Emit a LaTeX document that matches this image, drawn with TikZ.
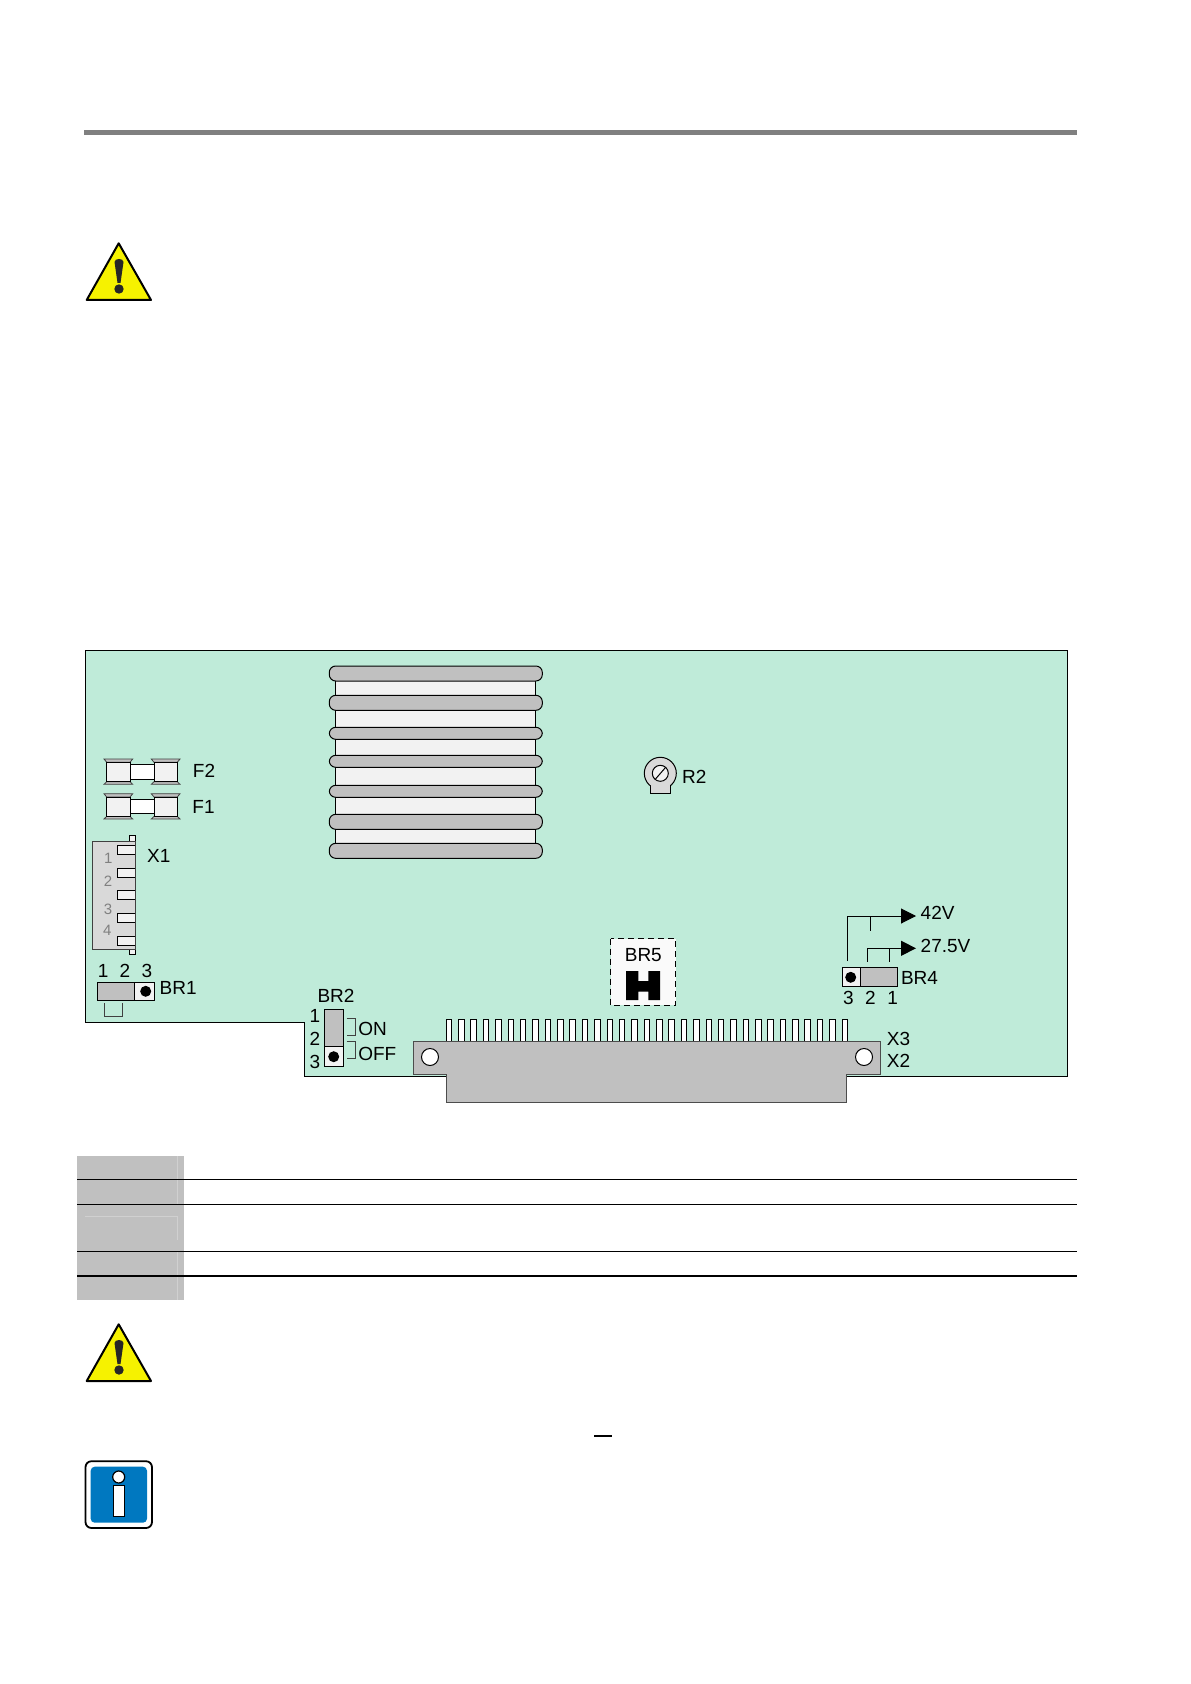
\documentclass[tikz,border=0pt]{standalone}
\usepackage{fontspec}
\setmainfont{Liberation Sans}
\usetikzlibrary{arrows.meta}

\definecolor{boardgreen}{HTML}{BFEBD9}
\definecolor{partgray}{HTML}{C0C0C0}
\definecolor{palegray}{HTML}{F2F2F2}
\definecolor{bodygray}{HTML}{D9D9D9}
\definecolor{signblue}{HTML}{0078C0}
\definecolor{signyellow}{HTML}{F6F200}

\tikzset{
    part/.style={draw=black, line width=0.5pt},
    label/.style={inner sep=0pt, font=\fontsize{9.5}{11}\selectfont},
    pinlabel/.style={inner sep=0pt, text=black!50, font=\fontsize{7.5}{9}\selectfont},
    thinline/.style={draw=black!75, line width=0.4pt},
    feedline/.style={draw=black, line width=0.5pt, -{Triangle[length=7.5pt,width=7.5pt]}}
}

\begin{document}
\begin{tikzpicture}[x=0.5pt, y=-0.5pt]
    \useasboundingbox[fill=white] (0,0) rectangle (1190,1684);

    % header rule
    \fill[black!50] (84,130) rectangle (1077,135);

    % warning signs
    \foreach \y in {0,1081} {
        \begin{scope}[yshift=-0.5pt*\y]
            \draw[fill=signyellow, line width=1pt, line join=round] (118.7,243.3) -- (151,300) -- (86.7,300) -- cycle;
            \fill[black!85] (114.5,262) .. controls (114.5,258) and (123.5,258) .. (123.5,262) -- (120.5,283) -- (117.5,283) -- cycle;
            \fill[black!85] (119,289) circle [radius=4.7];
        \end{scope}
    }

    % board
    \draw[part, fill=boardgreen] (85.5,650) -- (1067.5,650) -- (1067.5,1076) -- (304,1076)
        -- (304,1022) -- (85.5,1022) -- cycle;

    % heat sink
    \draw[part, fill=palegray] (335.3,666) rectangle (535.7,858);
    \foreach \y/\h in {666/15,695.3/15,727.3/12,755.3/12,785.3/12,814.3/15,843.3/15} {
        \draw[part, fill=partgray, rounded corners=3.2pt] (329.3,\y) rectangle (542.3,\y+\h);
    }

    % fuses
    \foreach \y in {0,34.7} {
        \begin{scope}[yshift=-0.5pt*\y]
            \draw[part, fill=white] (129,764.3) rectangle (154,779);
            \foreach \x in {106.7,154} {
                \draw[thinline, fill=partgray] (\x-2.7,759) -- (\x+26,759) -- (\x+23.3,762.3) -- (\x,762.3) -- cycle;
                \draw[thinline, fill=partgray] (\x-2.7,784.3) -- (\x+26,784.3) -- (\x+23.3,781.7) -- (\x,781.7) -- cycle;
                \draw[part, fill=palegray] (\x,762.3) rectangle (\x+23.3,781.7);
            }
        \end{scope}
    }
    \node[label] (labelFtwo) at (204,770.7) {F2};
    \node[label] (labelFone) at (203.5,806.5) {F1};

    % plug X1
    \draw[part, fill=palegray] (129.3,835.3) rectangle (135.3,954.3);
    \draw[thinline, fill=bodygray] (92.3,841.3) rectangle (135.3,949.3);
    \foreach \y in {845.3,868.3,890.3,913.3,936.3} {
        \draw[part, fill=palegray] (135.3,\y) -- (117.3,\y) -- (117.3,\y+8.7) -- (135.3,\y+8.7);
    }
    \node[pinlabel] (pinXone) at (108.3,858) {1};
    \node[pinlabel] (pinXtwo) at (108,881.7) {2};
    \node[pinlabel] (pinXthree) at (108,909.3) {3};
    \node[pinlabel] (pinXfour) at (107.3,930.7) {4};
    \node[label] (labelX) at (158.8,856) {X1};

    % jumper BR1
    \draw[part, fill=palegray] (97.3,982) rectangle (154.7,1000.7);
    \draw[part, fill=partgray] (97.3,982) rectangle (134.3,1000.7);
    \fill (145.7,991.3) circle [radius=5.5];
    \draw[thinline] (104.3,1003.3) -- (104.3,1016.3) -- (122.7,1016.3) -- (122.7,1003.3);
    \node[label] (pinAone) at (103.2,970.7) {1};
    \node[label] (pinAtwo) at (125,970.7) {2};
    \node[label] (pinAthree) at (147,970.7) {3};
    \node[label] (labelBRone) at (178.2,988.3) {BR1};

    % jumper BR2
    \draw[part, fill=palegray] (324.7,1009.3) rectangle (343.3,1066.3);
    \draw[part, fill=partgray] (324.7,1009.3) rectangle (343.3,1046.7);
    \fill (333.7,1056.7) circle [radius=5.5];
    \draw[thinline] (346.7,1018.7) -- (355.7,1018.7) -- (355.7,1035) -- (346.7,1035);
    \draw[thinline] (346.7,1041) -- (355.7,1041) -- (355.7,1058.3) -- (346.7,1058.3);
    \node[label] (labelBRtwo) at (336,996) {BR2};
    \node[label] (pinBone) at (315,1016) {1};
    \node[label] (pinBtwo) at (315,1038.7) {2};
    \node[label] (pinBthree) at (315,1061.7) {3};
    \node[label] (labelOn) at (372.7,1028.7) {ON};
    \node[label] (labelOff) at (377.3,1054) {OFF};

    % jumper BR5
    \draw[densely dashed, line width=0.4pt, fill=palegray!40] (610.7,938.7) rectangle (675.7,1005.3);
    \node[label] (labelBRfive) at (643.3,955.3) {BR5};
    \fill (626,971) -- (638.3,971) -- (638.3,981) -- (648.3,981) -- (648.3,971) -- (660,971)
        -- (660,1000) -- (648.3,1000) -- (648.3,991.7) -- (638.3,991.7) -- (638.3,1000) -- (626,1000) -- cycle;

    % trimmer R2
    \draw[part, fill=bodygray] (650.7,783) -- (650.7,793.3) -- (670.7,793.3) -- (670.7,783);
    \draw[part, fill=bodygray] (660.3,773.3) circle [radius=16];
    \fill[bodygray] (651.2,781) rectangle (670.2,792.8);
    \draw[part, fill=palegray] (660.3,773.3) circle [radius=8];
    \draw[part] (655.5,779) -- (665.5,767.5);
    \node[label] (labelRtwo) at (694.2,776.7) {R2};

    % jumper BR4
    \coordinate (feedA) at (847.3,961);
    \coordinate (feedB) at (867.3,961.7);
    \coordinate (tipA) at (916,916);
    \coordinate (tipB) at (916,948.3);
    \draw[feedline] (feedA) |- (tipA);
    \draw[feedline] (feedB) |- (tipB);
    \draw[part] (870.3,916) -- (870.3,930.7);
    \draw[part] (889.3,948.3) -- (889.3,961.7);
    \draw[part, fill=palegray] (842.3,967.3) rectangle (897.7,986.3);
    \draw[part, fill=partgray] (860.3,967.3) rectangle (897.7,986.3);
    \fill (850.7,977.3) circle [radius=5.5];
    \node[label] (labelHigh) at (937.6,913) {42V};
    \node[label] (labelLow) at (945.5,946) {27.5V};
    \node[label] (labelBRfour) at (919.5,977.7) {BR4};
    \node[label] (pinDthree) at (848.3,998) {3};
    \node[label] (pinDtwo) at (870.3,998) {2};
    \node[label] (pinDone) at (892.7,998) {1};

    % connector X2 X3
    \foreach \i in {0,...,32} {
        \draw[part, fill=white] ({449+12.37*\i-2.75},1019) rectangle ({449+12.37*\i+2.75},1041);
    }
    \draw[draw=black!70, line width=0.5pt, fill=partgray] (413,1041) -- (880,1041) -- (880,1074) -- (846,1074)
        -- (846,1102) -- (446,1102) -- (446,1074) -- (413,1074) -- cycle;
    \draw[part, fill=white] (430,1057) circle [radius=8.5];
    \draw[part, fill=white] (864,1057) circle [radius=8.5];
    \node[label] (labelXthree) at (898.5,1039) {X3};
    \node[label] (labelXtwo) at (898.5,1061) {X2};

    % table
    \fill[partgray] (77,1156) rectangle (184,1300);
    \draw[white!25!partgray, line width=0.4pt] (177.3,1156) -- (177.3,1204);
    \draw[white!25!partgray, line width=0.4pt] (85,1216.7) -- (177.3,1216.7) -- (177.3,1240);
    \draw[white!25!partgray, line width=0.4pt] (177.3,1251) -- (177.3,1300);
    \foreach \y/\w in {1179.7/0.6pt,1204.3/0.5pt,1251.3/0.5pt,1276/0.8pt} {
        \draw[line width=\w] (77,\y) -- (1077,\y);
    }

    % stray dash
    \fill (594,1434.5) rectangle (612,1436.5);

    % info sign
    \draw[fill=white, line width=0.9pt, rounded corners=3pt] (85.5,1461.2) rectangle (152,1528);
    \fill[signblue, rounded corners=2pt] (90.7,1466.7) rectangle (147,1522.7);
    \draw[fill=white, line width=0.6pt] (118.7,1477) circle [radius=6];
    \draw[fill=white, line width=0.6pt] (113.7,1485.7) rectangle (124.3,1516.7);
\end{tikzpicture}
\end{document}
